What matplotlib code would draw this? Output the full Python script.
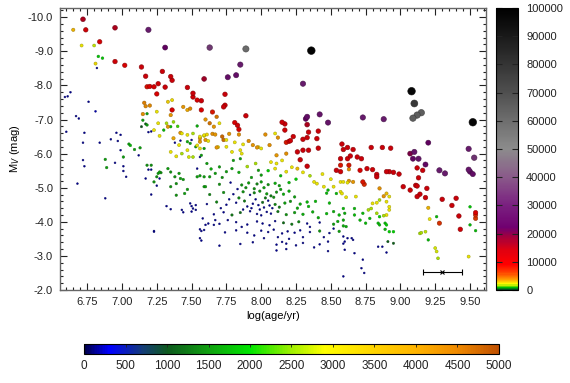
import matplotlib
matplotlib.use('Agg')
import matplotlib.pyplot as plt
from matplotlib.colors import LinearSegmentedColormap, Normalize
from matplotlib.cm import ScalarMappable
from matplotlib.ticker import MultipleLocator, FormatStrFormatter
import numpy as np

plt.rcParams['font.family'] = ['Liberation Sans', 'DejaVu Sans']
plt.rcParams['axes.unicode_minus'] = False

# (log age, M_V, value)
# value < 5000 -> bottom colour scale, value >= 5000 -> right colour scale
bright = [
    (6.72, -9.94, 16000), (6.74, -9.63, 11000), (6.95, -9.69, 16000), (7.19, -9.63, 30000),
    (7.31, -9.11, 22000), (6.84, -9.28, 10000), (6.95, -8.70, 11000), (7.02, -8.59, 9000),
    (7.14, -8.54, 12000), (7.17, -8.27, 12000), (7.29, -8.41, 12000), (7.35, -8.26, 12000),
    (7.36, -8.15, 12000), (7.59, -8.19, 17000), (7.18, -7.96, 8500), (7.20, -7.97, 9000),
    (7.23, -7.96, 10000), (7.26, -8.05, 11000), (7.31, -7.95, 12000), (7.47, -7.94, 12000),
    (7.51, -7.77, 12000), (7.51, -7.66, 11000), (7.54, -7.57, 9000), (7.25, -7.75, 9000),
    (7.36, -7.28, 9000), (7.63, -9.11, 36000), (7.89, -9.07, 55000), (8.36, -9.02, 99000),
    (7.85, -8.61, 30000), (7.76, -8.24, 26000), (7.82, -8.30, 26000), (8.30, -8.05, 30000),
    (7.57, -7.55, 12000), (7.57, -7.28, 9000), (7.74, -7.74, 12000), (7.74, -7.42, 11000),
    (7.73, -7.37, 12000), (7.65, -7.22, 8000), (7.89, -7.11, 12000), (7.81, -6.91, 9000),
    (7.83, -6.83, 11000), (7.84, -6.71, 9000), (8.15, -6.92, 12000), (8.17, -6.87, 12000),
    (8.17, -6.69, 11000), (8.33, -7.08, 26000), (8.32, -7.02, 22000), (8.33, -6.85, 16000),
    (8.34, -6.63, 12000), (8.42, -7.15, 28000), (8.48, -6.91, 28000), (8.41, -6.66, 12000),
    (8.40, -6.44, 12000), (8.41, -6.16, 12000), (8.58, -6.28, 12000), (8.23, -6.50, 11000),
    (8.20, -6.36, 9000), (8.21, -6.38, 11000), (8.18, -6.33, 8000), (8.30, -6.42, 12000),
    (8.33, -6.47, 12000),
]

old_bright = [
    (9.08, -7.83, 97000), (9.10, -7.47, 75000), (9.09, -7.04, 60000), (9.12, -7.13, 60000),
    (9.15, -7.20, 60000), (9.52, -6.92, 97000), (8.73, -7.06, 30000), (8.88, -7.01, 30000),
    (9.20, -6.32, 22000), (8.62, -6.18, 12000), (8.79, -6.18, 12000), (8.87, -6.18, 12000),
    (8.93, -6.16, 12000), (9.49, -6.14, 30000), (9.53, -5.88, 35000), (9.49, -5.53, 28000),
    (9.50, -5.47, 26000), (9.52, -5.40, 26000), (9.07, -6.00, 20000), (9.10, -6.05, 28000),
    (9.09, -5.85, 24000), (9.13, -5.85, 28000), (9.18, -5.68, 24000), (9.16, -5.51, 12000),
    (9.12, -5.58, 12000), (9.13, -5.29, 12000), (9.28, -5.51, 30000), (9.32, -5.42, 30000),
    (8.57, -5.85, 12000), (8.62, -5.85, 12000), (8.64, -5.93, 12000), (8.69, -5.90, 12000),
    (8.72, -5.85, 12000), (8.57, -5.66, 8000), (8.63, -5.66, 8000), (8.76, -5.56, 11000),
    (8.71, -5.51, 9000), (8.80, -5.53, 11000), (8.90, -5.47, 12000), (8.92, -5.47, 12000),
    (8.95, -5.45, 12000), (8.99, -5.40, 12000), (8.83, -5.39, 12000), (8.83, -5.32, 12000),
    (8.73, -5.17, 8000), (8.74, -5.10, 7000), (9.02, -5.03, 12000), (9.11, -5.07, 12000),
    (9.12, -5.05, 12000), (9.07, -4.93, 11000), (9.12, -4.74, 12000), (9.14, -4.81, 12000),
    (9.18, -4.71, 12000), (9.19, -4.98, 12000), (9.30, -4.66, 12000), (9.40, -4.69, 12000),
    (9.37, -4.48, 12000), (9.42, -4.17, 12000), (9.43, -3.78, 11000), (9.54, -4.27, 9000),
    (9.54, -4.20, 7000), (9.54, -4.10, 6000), (9.28, -3.96, 6500), (8.26, -6.05, 12000),
    (8.30, -6.10, 12000), (8.34, -6.10, 12000), (8.28, -5.82, 12000), (8.33, -5.63, 12000),
    (8.54, -5.51, 12000), (8.57, -5.47, 11000), (8.59, -6.12, 12000), (8.66, -6.12, 12000),
]

young_faint = [
    (6.65, -9.63, 3800), (6.71, -9.17, 3000), (6.80, -9.17, 2700), (6.83, -8.85, 1900),
    (6.86, -8.80, 1900), (6.81, -8.64, 3200), (6.82, -8.51, 150), (6.59, -7.66, 150),
    (6.61, -7.68, 150), (6.63, -7.80, 150), (6.76, -7.52, 150), (6.81, -7.24, 200),
    (6.67, -7.10, 150), (6.69, -7.03, 150), (6.60, -6.64, 150), (6.73, -6.61, 150),
    (6.96, -6.61, 150), (6.99, -6.55, 150), (6.97, -6.37, 150), (6.92, -6.42, 150),
    (6.72, -6.32, 150), (6.84, -6.32, 150), (7.05, -6.28, 1600), (7.15, -6.98, 1600),
    (7.17, -6.87, 1100), (7.14, -6.79, 1000), (7.18, -6.84, 1600), (7.19, -6.63, 150),
    (7.21, -6.65, 150), (7.18, -7.17, 1600), (7.25, -7.23, 3000), (7.33, -7.52, 3400),
    (7.36, -7.57, 3200), (7.15, -7.16, 4300), (7.26, -6.89, 3000), (7.32, -6.89, 2600),
    (7.37, -6.93, 2500), (7.35, -6.79, 1800), (7.40, -6.80, 2200), (7.23, -6.69, 3000),
    (7.27, -6.52, 3000), (7.30, -6.69, 1800), (7.33, -6.79, 4200), (7.37, -6.45, 4000),
    (7.41, -6.25, 3000), (7.47, -6.35, 1700), (7.56, -6.35, 4200), (7.42, -6.61, 4200),
    (7.43, -6.59, 3000), (7.51, -6.59, 2600), (7.54, -6.81, 1700), (7.56, -6.45, 4200),
    (7.59, -6.52, 3000), (7.38, -6.32, 150), (7.42, -6.38, 150), (7.47, -6.55, 3000),
    (7.49, -6.30, 1600), (7.50, -6.40, 150), (7.53, -6.20, 1600), (7.16, -7.49, 4500),
    (7.17, -7.39, 4400), (7.20, -7.41, 4400), (7.44, -7.37, 4200), (7.47, -7.28, 4000),
    (7.49, -7.32, 4400), (7.35, -7.13, 4200),
    (7.56, -6.50, 3000), (7.59, -6.54, 3000), (7.61, -6.56, 3200), (7.60, -6.40, 4200),
    (7.62, -6.37, 3000), (7.65, -6.58, 4300), (7.67, -6.56, 4200), (7.72, -6.50, 4700),
    (7.73, -6.40, 4700), (7.75, -6.40, 3000), (7.77, -6.58, 4200), (7.69, -6.19, 3200),
    (7.81, -6.33, 3000), (7.84, -6.56, 4300), (7.87, -6.27, 3000), (7.91, -6.37, 4300),
    (7.94, -6.25, 4200), (7.98, -6.19, 3200), (8.03, -6.56, 4300), (8.06, -6.25, 4300),
    (8.10, -6.59, 3000), (8.12, -6.47, 4300), (7.63, -6.89, 4600), (7.70, -6.89, 3000),
    (7.66, -6.79, 4200), (7.60, -7.00, 4200), (7.68, -7.08, 4600),
    (6.72, -5.81, 150), (6.73, -5.63, 150), (6.68, -5.12, 150), (6.88, -4.69, 150),
    (6.88, -5.83, 1600), (6.89, -5.59, 1600), (6.95, -5.73, 150), (7.01, -5.63, 150),
    (7.01, -5.49, 150), (7.03, -5.32, 150), (6.99, -6.10, 150), (7.01, -5.90, 1600),
    (7.06, -6.24, 1800), (7.09, -6.12, 1600), (7.12, -5.95, 150), (7.13, -6.17, 1600),
    (7.18, -5.66, 1500), (7.21, -5.66, 1500), (7.19, -5.53, 150), (7.21, -5.53, 150),
    (7.17, -5.27, 150), (7.25, -5.32, 1500), (7.26, -5.42, 1600), (7.28, -5.44, 1500),
    (7.27, -5.27, 150), (7.25, -5.06, 150), (7.21, -4.80, 150), (7.23, -3.71, 150),
    (7.33, -5.56, 1600), (7.35, -5.46, 1500), (7.38, -5.32, 1500), (7.41, -5.42, 1600),
    (7.42, -5.27, 1600), (7.39, -5.12, 1500), (7.44, -5.24, 1600), (7.35, -5.03, 1500),
    (7.39, -4.78, 1500), (7.47, -4.95, 1600), (7.45, -4.83, 1600), (7.32, -4.46, 150),
    (7.35, -4.37, 150), (7.43, -4.35, 150), (7.44, -4.28, 150), (7.49, -4.54, 150),
    (7.50, -4.46, 150), (7.53, -4.49, 150), (7.51, -4.39, 150), (7.53, -4.35, 150),
    (7.50, -4.30, 150), (7.54, -5.56, 150), (7.54, -5.32, 1600), (7.56, -5.35, 1600),
    (7.59, -5.03, 1600), (7.56, -3.78, 150), (7.57, -3.45, 150), (7.59, -3.76, 150),
    (7.35, -6.05, 3000), (7.39, -5.92, 3000), (7.43, -6.00, 2600), (7.47, -6.10, 3000),
    (7.48, -5.90, 2800), (7.54, -6.24, 3000), (7.56, -6.15, 3000), (7.51, -5.90, 2600),
    (7.56, -5.90, 150), (7.27, -5.46, 1600), (7.23, -5.17, 1500), (7.58, -4.10, 150),
    (7.60, -3.91, 150), (7.66, -3.91, 150), (7.56, -3.52, 150), (7.23, -3.73, 150),
]

mid_faint = [
    (7.68, -6.18, 4200), (7.75, -6.20, 3000), (7.79, -6.05, 3000), (7.85, -6.10, 3000),
    (7.97, -6.18, 4200), (8.00, -6.15, 3000), (8.11, -5.95, 4200), (8.15, -5.80, 3000),
    (8.18, -6.00, 4300), (8.26, -5.56, 3600), (8.11, -5.71, 3000), (8.10, -5.56, 3000),
    (8.18, -5.47, 3000), (7.96, -5.71, 2600), (7.98, -5.51, 1600), (8.00, -5.37, 1600),
    (7.85, -5.85, 1600), (7.86, -6.00, 3000), (7.80, -5.80, 1600), (7.79, -5.56, 1600),
    (7.75, -5.47, 1600), (7.70, -5.61, 1600), (7.67, -5.42, 1600), (7.63, -5.32, 1600),
    (7.59, -6.15, 1600), (7.57, -5.95, 1600), (7.61, -5.71, 1600), (7.59, -5.32, 1600),
    (7.60, -5.03, 1600), (8.38, -5.17, 3000), (8.40, -5.12, 3000), (8.45, -5.03, 3000),
    (8.48, -4.93, 1800), (8.52, -5.03, 3000), (8.54, -4.83, 1800), (8.57, -4.88, 3000),
    (7.64, -5.55, 1700), (7.72, -5.30, 1500), (7.84, -5.45, 1700), (7.90, -5.62, 2600),
    (7.93, -5.30, 1600), (8.05, -5.50, 2000), (8.07, -5.75, 3000), (8.14, -5.35, 1800),
    (8.22, -5.60, 3000), (8.25, -5.25, 2000), (8.30, -5.45, 3000), (8.35, -5.35, 2600),
    (8.20, -5.15, 1800), (8.44, -5.40, 3000), (8.50, -5.25, 3000),
    (7.70, -5.10, 1500), (7.78, -5.15, 150), (7.86, -5.08, 1500), (7.91, -5.14, 1600),
    (7.97, -5.11, 1400), (8.00, -5.17, 1600), (8.05, -5.09, 1500), (8.10, -5.13, 1700),
    (8.13, -5.06, 1600), (7.63, -4.80, 1400), (7.73, -4.86, 1500), (7.80, -4.81, 150),
    (7.87, -4.88, 1500), (7.92, -4.79, 150), (7.95, -4.85, 1400), (7.99, -4.90, 1500),
    (8.04, -4.82, 1600), (8.07, -4.76, 1300), (8.11, -4.87, 1500), (8.16, -4.81, 1700),
    (8.47, -4.84, 1800), (7.61, -4.52, 150), (7.68, -4.58, 1400), (7.75, -4.50, 150),
    (7.82, -4.56, 150), (7.88, -4.61, 1300), (7.94, -4.53, 150), (7.98, -4.49, 150),
    (8.01, -4.57, 1200), (8.05, -4.62, 150), (8.10, -4.51, 1400), (8.17, -4.55, 1600),
    (8.21, -4.60, 1500), (8.28, -4.52, 1700), (8.33, -4.58, 1800), (8.49, -4.55, 1800),
    (7.66, -4.22, 150), (7.73, -4.28, 150), (7.79, -4.20, 1300), (7.85, -4.27, 1200),
    (7.92, -4.31, 150), (7.97, -4.23, 150), (8.00, -4.19, 150), (8.04, -4.29, 150),
    (8.07, -4.24, 150), (8.12, -4.30, 1300), (8.18, -4.21, 1500), (8.24, -4.27, 1600),
    (8.30, -4.22, 1700), (8.37, -4.29, 1700), (8.47, -4.24, 1800), (8.52, -4.30, 1700),
    (8.56, -4.20, 1800), (7.70, -3.94, 150), (7.82, -3.99, 150), (7.90, -3.92, 150),
    (7.97, -4.01, 150), (8.01, -3.95, 150), (8.06, -3.90, 150), (8.10, -4.02, 150),
    (8.16, -3.97, 1200), (8.22, -3.93, 1300), (8.27, -4.00, 1400), (8.33, -3.95, 150),
    (8.42, -3.98, 150), (8.52, -3.93, 1600), (8.55, -4.01, 1700), (7.57, -3.73, 150),
    (7.74, -3.69, 150), (7.82, -3.75, 150), (7.90, -3.68, 150), (8.00, -3.74, 150),
    (8.05, -3.70, 150), (8.09, -3.77, 150), (8.15, -3.66, 150), (8.19, -3.72, 150),
    (8.24, -3.68, 150), (8.28, -3.75, 150), (8.35, -3.70, 150), (8.42, -3.73, 1500),
    (8.49, -3.67, 150), (8.56, -3.72, 1600), (7.85, -3.35, 150), (7.94, -3.40, 150),
    (8.11, -3.33, 150), (8.15, -3.41, 150), (8.18, -3.36, 150), (8.25, -3.31, 150),
    (8.30, -3.38, 150), (8.42, -3.34, 150), (8.48, -3.42, 150), (8.59, -3.36, 150),
    (8.11, -3.16, 150), (8.18, -3.20, 150), (8.48, -3.14, 150),
    (7.90, -4.45, 150), (7.93, -4.40, 150), (7.96, -4.66, 150), (8.02, -4.42, 150),
    (8.03, -4.70, 1300), (8.08, -4.40, 150), (7.99, -4.36, 150), (8.06, -4.48, 150),
    (7.87, -4.36, 150), (7.84, -4.70, 1400), (7.77, -4.66, 150), (7.71, -4.40, 150),
    (8.13, -4.43, 1300), (8.09, -4.72, 1500), (7.95, -4.97, 1500), (8.02, -5.00, 1600),
    (7.89, -5.00, 1500), (7.83, -4.96, 150), (8.14, -4.95, 1600), (8.20, -4.90, 1700),
    (8.24, -4.73, 1600), (8.26, -4.40, 1700), (8.34, -4.45, 1800), (8.39, -4.60, 1800),
    (8.41, -4.12, 1700), (8.35, -3.85, 150), (8.45, -3.55, 150), (8.30, -3.55, 150),
    (8.20, -3.50, 150), (8.12, -3.55, 150), (8.02, -3.52, 150), (7.95, -3.60, 150),
    (7.86, -3.85, 150), (7.76, -4.05, 150), (7.67, -4.05, 150), (7.62, -3.95, 150),
    (8.52, -3.80, 150), (8.38, -3.25, 150), (7.70, -3.30, 150),
]

old_faint = [
    (8.63, -5.54, 4300), (8.66, -5.17, 4200), (8.63, -5.20, 4200), (8.57, -5.17, 3000),
    (8.59, -5.17, 3000), (8.62, -5.15, 3000), (8.58, -4.83, 3000), (8.61, -4.72, 3000),
    (8.68, -4.74, 3000), (8.85, -4.98, 4300), (8.88, -4.75, 4200), (8.90, -4.83, 3600),
    (8.92, -4.74, 3000), (8.90, -4.59, 3000), (8.80, -4.54, 3000), (8.83, -4.56, 3000),
    (8.85, -4.64, 2600), (8.92, -4.44, 3000), (8.92, -4.35, 3000), (8.90, -4.20, 3000),
    (8.88, -4.18, 2600), (8.77, -4.35, 2600), (8.79, -4.39, 2600), (8.78, -4.10, 1800),
    (8.83, -4.25, 2600), (8.85, -4.15, 2000), (8.84, -3.96, 1800), (8.85, -3.91, 1800),
    (8.89, -3.96, 1800), (8.90, -3.91, 2000), (8.92, -3.71, 2000), (8.95, -3.71, 2000),
    (8.89, -3.78, 1800), (8.91, -3.42, 1100), (8.95, -3.37, 1100), (8.90, -3.10, 150),
    (8.87, -3.27, 150), (8.84, -3.27, 150), (8.59, -4.39, 1800), (8.60, -4.25, 1700),
    (8.59, -4.05, 1700), (8.61, -3.86, 1700), (8.59, -3.88, 1700), (8.67, -4.20, 1800),
    (8.71, -4.05, 1800), (8.75, -3.96, 1800), (8.73, -4.25, 1800), (8.67, -4.39, 1800),
    (8.59, -3.57, 150), (8.62, -3.52, 150), (8.65, -3.52, 150), (8.66, -3.47, 150),
    (8.60, -3.42, 150), (8.60, -3.18, 150), (8.67, -3.08, 150), (8.73, -2.89, 150),
    (8.72, -2.64, 150), (8.74, -2.50, 150), (8.59, -2.40, 150), (9.50, -4.44, 1900),
    (9.50, -3.91, 1800), (9.54, -3.74, 1800), (9.20, -4.41, 3800), (9.21, -4.08, 3000),
    (9.26, -4.15, 1800), (9.14, -3.66, 2600), (9.15, -3.68, 2600), (9.18, -3.71, 2700),
    (9.20, -3.47, 1800), (9.25, -3.23, 2800), (9.26, -3.13, 2800), (9.27, -2.93, 2600),
    (9.49, -2.98, 3000),
]

# typical error bar, bottom right
err_age, err_mv, err_half = 9.30, -2.53, 0.14

low_ticks = np.arange(0, 5001, 500)
high_ticks = np.arange(0, 100001, 10000)

low_cmap = LinearSegmentedColormap.from_list('low', [
    (0.0, '#00004a'), (0.06, '#0000ff'), (0.14, '#143c78'), (0.2, '#0e5a1e'),
    (0.3, '#10a010'), (0.4, '#00e600'), (0.5, '#a0f000'), (0.58, '#ffff00'),
    (0.7, '#ffd400'), (0.8, '#ffb400'), (0.9, '#f08a00'), (1.0, '#c05000')])
high_cmap = LinearSegmentedColormap.from_list('high', [
    (0.0, '#005020'), (0.008, '#00c000'), (0.018, '#ffff00'), (0.035, '#ffa000'),
    (0.06, '#ff4000'), (0.09, '#ff0000'), (0.14, '#e00010'), (0.19, '#a00040'),
    (0.22, '#700070'), (0.30, '#7a2080'), (0.40, '#8a5a8a'), (0.50, '#8c8c8c'),
    (0.60, '#6e6e6e'), (0.70, '#505050'), (0.80, '#353535'), (0.90, '#1a1a1a'),
    (1.0, '#000000')])
low_norm = Normalize(0, 5000)
high_norm = Normalize(0, 100000)

faint = np.array(young_faint + mid_faint + old_faint)
lum = np.array(bright + old_bright)
lum = lum[np.argsort(lum[:, 2])]


def soft_colors(cmap, norm, vals, face_dim, edge_dim):
    rgba = cmap(norm(vals))
    face = rgba.copy()
    face[:, :3] *= face_dim
    edge = rgba.copy()
    edge[:, :3] *= edge_dim
    edge[:, 3] = 0.8
    return face, edge


fig = plt.figure(figsize=(5.7, 3.83), dpi=100)
ax = fig.add_axes([0.1053, 0.2428, 0.7474, 0.7363])

fc, ec = soft_colors(low_cmap, low_norm, faint[:, 2], 0.92, 0.6)
ax.scatter(faint[:, 0], faint[:, 1], c=fc, edgecolors=ec,
           s=1.6 + 5.5 * faint[:, 2] / 5000, linewidths=0.4, zorder=2)
fc, ec = soft_colors(high_cmap, high_norm, lum[:, 2], 0.85, 0.55)
ax.scatter(lum[:, 0], lum[:, 1], c=fc, edgecolors=ec,
           s=8 + 22 * lum[:, 2] / 100000, linewidths=0.5, zorder=3)

ax.errorbar([err_age], [err_mv], xerr=[err_half], fmt='x', ms=3, color='black',
            ecolor='black', elinewidth=0.8, capsize=2, capthick=0.8, mew=0.8)

ax.set_xlim(6.555, 9.615)
ax.set_ylim(-2.0, -10.27)
ax.xaxis.set_major_locator(MultipleLocator(0.25))
ax.xaxis.set_minor_locator(MultipleLocator(0.05))
ax.yaxis.set_major_locator(MultipleLocator(1.0))
ax.yaxis.set_minor_locator(MultipleLocator(0.2))
ax.xaxis.set_major_formatter(FormatStrFormatter('%.2f'))
ax.yaxis.set_major_formatter(FormatStrFormatter('%.1f'))
ax.tick_params(which='both', direction='in', top=True, right=True, labelsize=8,
               colors='#222222', width=0.8)
ax.tick_params(which='major', length=5, pad=5)
ax.tick_params(which='minor', length=2.5)
for sp in ax.spines.values():
    sp.set_color('#666666')
    sp.set_linewidth(1.0)
ax.set_xlabel('log(age/yr)', fontsize=8, labelpad=3)
ax.set_ylabel('M$_V$ (mag)', fontsize=8, labelpad=4)

# right colour scale
cax_r = fig.add_axes([0.870, 0.2428, 0.0386, 0.7363])
cb_r = fig.colorbar(ScalarMappable(norm=high_norm, cmap=high_cmap), cax=cax_r,
                    ticks=high_ticks)
cb_r.ax.tick_params(direction='in', left=True, right=True, length=4, width=0.8,
                    labelsize=8, colors='#222222', pad=6)
cb_r.ax.set_yticklabels([str(t) for t in high_ticks])
cb_r.outline.set_linewidth(0.8)

# bottom colour scale
cax_b = fig.add_axes([0.1474, 0.0757, 0.728, 0.0261])
cb_b = fig.colorbar(ScalarMappable(norm=low_norm, cmap=low_cmap), cax=cax_b,
                    orientation='horizontal', ticks=low_ticks)
cb_b.ax.tick_params(direction='in', top=True, bottom=False, length=2, width=0.6,
                    labelsize=8.5, colors='#222222', pad=4, labelbottom=True)
cb_b.ax.set_xticklabels([str(t) for t in low_ticks])
cb_b.outline.set_linewidth(0.8)

plt.savefig('out.png', dpi=100)
plt.close('all')
